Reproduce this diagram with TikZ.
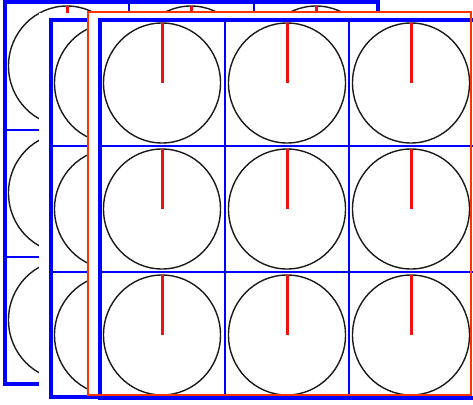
\documentclass[tikz,border=0pt]{standalone}
\usepackage{tikz}
\definecolor{dialblue}{HTML}{0000FF}
\definecolor{dialneedle}{HTML}{EE1111}
\definecolor{dialframe}{HTML}{FF3300}
\definecolor{dialring}{HTML}{1A1A1A}

\begin{document}
\begin{tikzpicture}[x=1pt, y=-1pt,
  ring/.style={draw=dialring, line width=1.4pt},
  needle/.style={draw=dialneedle, line width=3pt},
  cellline/.style={draw=dialblue, line width=1.3pt},
  border/.style={draw=dialblue, line width=4pt}]
  \useasboundingbox (0,0) rectangle (473,404);
  \clip (0,0) rectangle (473,404);
  % back panel
  \foreach \cx in {67,191,316}
    \foreach \cy in {66,193,320} {
      \draw[ring] (\cx,\cy) ellipse [x radius=58.5, y radius=60];
      \draw[needle] (\cx,\cy) -- (\cx,\cy-60);
    }
  \draw[cellline] (129,2) -- (129,384) (254,2) -- (254,384)
    (5,130) -- (378,130) (5,257) -- (378,257);
  \draw[border] (5,2) rectangle (378,384);
  % middle panel
  \fill[white] (39,13) rectangle (473,404);
  \foreach \cx in {113,237,361}
    \foreach \cy in {83,209,335} {
      \draw[ring] (\cx,\cy) ellipse [x radius=58.5, y radius=60];
      \draw[needle] (\cx,\cy) -- (\cx,\cy-60);
    }
  \draw[cellline] (175,20) -- (175,397) (299,20) -- (299,397)
    (51,146) -- (424,146) (51,272) -- (424,272);
  \draw[border] (51,20) rectangle (424,397);
  % front panel (selected)
  \fill[white] (88,12) rectangle (471,395);
  \foreach \cx in {162,287,411}
    \foreach \cy in {83,209,335} {
      \draw[ring] (\cx,\cy) ellipse [x radius=58.5, y radius=60];
      \draw[needle] (\cx,\cy) -- (\cx,\cy-60);
    }
  \draw[cellline] (225,20) -- (225,398) (349,20) -- (349,398)
    (100,146) -- (473,146) (100,272) -- (473,272);
  \draw[border] (100,20) rectangle (477,398);
  \draw[dialframe, line width=2pt] (88,12) rectangle (471,395);
\end{tikzpicture}
\end{document}
